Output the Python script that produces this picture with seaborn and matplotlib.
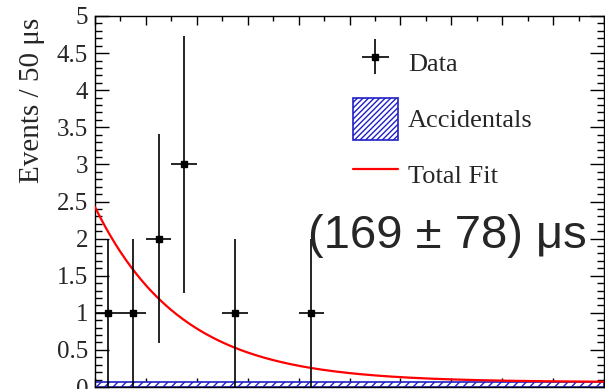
import numpy as np
import pandas as pd
import matplotlib
matplotlib.use("Agg")
import matplotlib.pyplot as plt
import seaborn as sns
from matplotlib.patches import Patch
from matplotlib.lines import Line2D
from matplotlib.container import ErrorbarContainer
from matplotlib.legend_handler import HandlerErrorbar
from matplotlib.ticker import MultipleLocator, FixedLocator, FixedFormatter

# ---- data ----
bin_centers = [25, 75, 125, 175, 275, 425]          # μs
counts = [1, 1, 2, 3, 1, 1]                          # events / 50 μs
count_errors = [1.0, 1.0, 1.41, 1.73, 1.0, 1.0]
bin_half_width = 25                                  # μs
fit_amplitude = 2.36
fit_tau = 169                                        # μs
accidental_level = 0.065
x_range = [0, 1000]
y_ticks = [0, 0.5, 1, 1.5, 2, 2.5, 3, 3.5, 4, 4.5, 5]
y_tick_labels = ["0", "0.5", "1", "1.5", "2", "2.5", "3", "3.5", "4", "4.5", "5"]
legend_labels = ["Data", "Accidentals", "Total Fit"]
y_title = "Events / 50 μs"
fit_text = "(169 ± 78) μs"

sns.set_theme(style="ticks")
plt.rcParams["font.family"] = ["Liberation Serif", "DejaVu Serif"]
plt.rcParams["hatch.linewidth"] = 1.0

W, H = 605, 389
fig = plt.figure(figsize=(W / 100, H / 100), dpi=100)
ax = fig.add_axes([95 / W, 2 / H, 509 / W, 371 / H])

# accidentals band
acc = ax.fill_between(x_range, 0, accidental_level, facecolor="white",
                      edgecolor="#2020c8", hatch="////", linewidth=1.2, zorder=2)

# fit curve (exponential + flat accidentals)
t = np.linspace(x_range[0], x_range[1], 500)
fit_df = pd.DataFrame({"t": t, "y": fit_amplitude * np.exp(-t / fit_tau) + accidental_level})
sns.lineplot(data=fit_df, x="t", y="y", color="red", linewidth=1.6, ax=ax, zorder=3)

# data points
data_df = pd.DataFrame({"t": bin_centers, "n": counts, "err": count_errors})
eb = ax.errorbar(data_df["t"], data_df["n"], xerr=bin_half_width, yerr=data_df["err"],
                 fmt="s", color="black", ms=4.5, elinewidth=1.2, capsize=0, zorder=4)

ax.set_xlim(*x_range)
ax.set_ylim(0, 5)
ax.set_xlabel("")
ax.set_ylabel("")

ax.xaxis.set_major_locator(MultipleLocator(100))
ax.xaxis.set_minor_locator(MultipleLocator(50))
ax.yaxis.set_major_locator(FixedLocator(y_ticks))
ax.yaxis.set_major_formatter(FixedFormatter(y_tick_labels))
ax.yaxis.set_minor_locator(MultipleLocator(0.1))

ax.tick_params(which="both", direction="in", top=True, right=True, bottom=True, left=True,
               color="black", width=1.0, labelbottom=False)
ax.tick_params(axis="y", which="major", length=10, pad=5, labelsize=18)
ax.tick_params(axis="y", which="minor", length=5)
ax.tick_params(axis="x", which="major", length=6.5)
ax.tick_params(axis="x", which="minor", length=3.5)
for s in ax.spines.values():
    s.set_linewidth(1.0)
    s.set_color("black")
    s.set_visible(True)

# legend
handles = [eb,
           Patch(facecolor="white", edgecolor="#2020c8", hatch="//////", linewidth=1.2),
           Line2D([0], [0], color="red", linewidth=1.6)]
ax.legend(handles, legend_labels, loc="upper left",
          bbox_to_anchor=(353 / W, 1 - 42 / H), bbox_transform=fig.transFigure,
          frameon=False, fontsize=19, handlelength=1.7, handleheight=2.07,
          handletextpad=0.38, labelspacing=0.53, borderpad=0, borderaxespad=0,
          handler_map={ErrorbarContainer: HandlerErrorbar(xerr_size=0.5, yerr_size=0.66)})

# y title (ROOT style, aligned to top)
fig.text(32 / W, 1 - 18 / H, y_title, rotation=90, va="top", ha="center", fontsize=21)

# fit result text
fig.text(308 / W, 1 - 248 / H, fit_text, fontsize=34, ha="left", va="baseline",
         family=["Liberation Sans", "DejaVu Sans"])

fig.savefig("out.png", dpi=100)
